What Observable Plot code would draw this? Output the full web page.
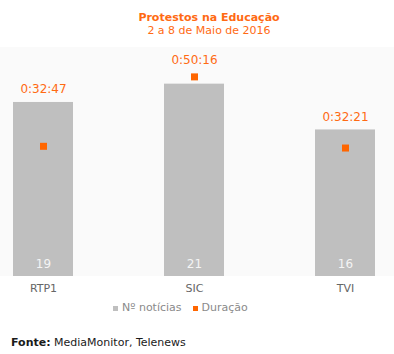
<!DOCTYPE html>
<html><head><meta charset="utf-8">
<script src="https://cdn.jsdelivr.net/npm/d3@7"></script>
<script src="https://cdn.jsdelivr.net/npm/@observablehq/plot@0.6"></script>
<style>
body{margin:0;font-family:"DejaVu Sans",Verdana,sans-serif;background:#fff;}
#wrap{position:relative;width:394px;height:354px;overflow:hidden;}
.t{position:absolute;left:24px;width:370px;text-align:center;color:#ff6a13;font-size:11px;line-height:13px;white-space:nowrap;}
#title{top:11px;font-weight:bold;}
#subtitle{top:24px;}
#bg{position:absolute;left:0;top:47px;width:394px;height:229px;background:#fafafa;}
#chart{position:absolute;left:0;top:47px;}
#legend{position:absolute;left:113px;top:301px;font-size:11px;line-height:14px;color:#8a8a8a;display:flex;align-items:center;white-space:nowrap;}
.sw{display:inline-block;width:5px;height:5px;margin-right:4px;}
#caption{position:absolute;left:11px;top:336px;font-size:11px;line-height:14px;color:#1a1a1a;white-space:nowrap;}
</style></head><body>
<div id="wrap">
<div id="title" class="t">Protestos na Educação</div>
<div id="subtitle" class="t">2 a 8 de Maio de 2016</div>
<div id="bg"></div>
<div id="chart"></div>
<div id="legend"><span class="sw" style="background:#bfbfbf"></span><span>Nº notícias</span><span class="sw" style="background:#ff6600;margin-left:11px"></span><span>Duração</span></div>
<div id="caption"><b>Fonte:</b> MediaMonitor, Telenews</div>
</div>
<script>
const channels = ["RTP1", "SIC", "TVI"];
const noticias = [19, 21, 16];
const duracao = ["0:32:47", "0:50:16", "0:32:21"];
const countMax = 25;     // left (hidden) axis maximum
const durMaxSec = 3460;  // right (hidden) axis maximum, seconds

const toSec = s => s.split(":").map(Number).reduce((a, v) => a * 60 + v, 0);
const data = channels.map((c, i) => {
  const dy = toSec(duracao[i]) / durMaxSec * countMax;
  return {canal: c, n: noticias[i], dur: duracao[i], durY: dy, top: Math.max(noticias[i], dy + 0.4)};
});

const chart = Plot.plot({
  width: 394,
  height: 252,
  marginTop: 0,
  marginBottom: 23,
  marginLeft: 0,
  marginRight: 6,
  x: {domain: channels, paddingInner: 0.6, paddingOuter: 0.08},
  y: {domain: [0, countMax], axis: null},
  style: {background: "transparent", fontFamily: "'DejaVu Sans', Verdana, sans-serif", fontSize: "11px", color: "#666"},
  marks: [
    Plot.barY(data, {x: "canal", y: "n", fill: "#bfbfbf"}),
    Plot.text(data, {x: "canal", y: 0, text: d => String(d.n), dy: -12, fill: "#f4f4f4", fontSize: 12}),
    Plot.dot(data, {x: "canal", y: "durY", symbol: "square", r: 3.95, fill: "#ff6600", stroke: null}),
    Plot.text(data, {x: "canal", y: "top", text: "dur", dy: -13, fill: "#ff6a13", fontSize: 12}),
    Plot.axisX({tickSize: 0, tickPadding: 8, label: null, fontSize: 11})
  ]
});
document.getElementById("chart").appendChild(chart);
</script>
</body></html>
